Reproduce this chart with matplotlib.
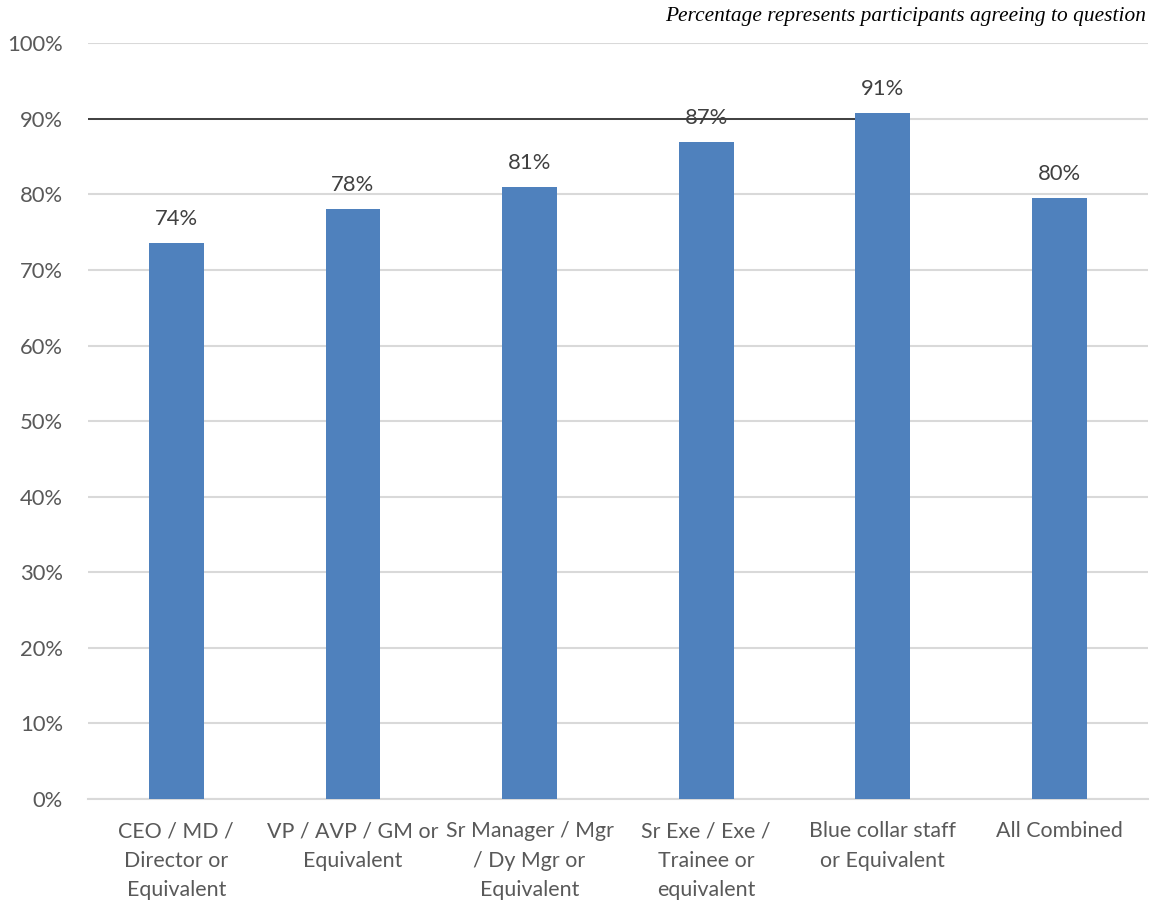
import matplotlib
matplotlib.use("Agg")
import matplotlib.pyplot as plt
import numpy as np

categories = [
    "CEO / MD /\nDirector or\nEquivalent",
    "VP / AVP / GM or\nEquivalent",
    "Sr Manager / Mgr\n/ Dy Mgr or\nEquivalent",
    "Sr Exe / Exe /\nTrainee or\nequivalent",
    "Blue collar staff\nor Equivalent",
    "All Combined",
]
agree_pct = [73.6, 78.1, 81.0, 86.9, 90.8, 79.5]
y_ticks = [0, 10, 20, 30, 40, 50, 60, 70, 80, 90, 100]
reference_level = 90
note = "Percentage represents participants agreeing to question"

plt.rcParams["font.family"] = ["Lato", "DejaVu Sans"]

fig = plt.figure(figsize=(11.5, 9), dpi=100)
ax = fig.add_axes([0.0765, 0.1122, 0.9215, 0.8398])

x = np.arange(len(categories))
bar_w = 0.31
bars = ax.bar(x, agree_pct, width=bar_w, color="#4F81BD", zorder=3)

# reference line at 90% running from the axis to the Blue collar bar
ax.hlines(reference_level, -0.5, 4, colors="#262626", linewidth=1.2, zorder=2)

for xi, v in zip(x, agree_pct):
    ax.annotate(f"{v:.0f}%", (xi, v), xytext=(0, 10), textcoords="offset points",
                ha="center", va="bottom", fontsize=15.8, color="#404040", zorder=4)

ax.set_xlim(-0.5, len(categories) - 0.5)
ax.set_ylim(0, 100)
ax.set_yticks(y_ticks)
ax.set_yticklabels([f"{t}%" for t in y_ticks], fontsize=15.8, color="#595959")
ax.set_xticks(x)
ax.set_xticklabels(categories, fontsize=15.4, color="#595959", linespacing=1.6)
ax.tick_params(axis="both", length=0)
ax.tick_params(axis="y", pad=18)
ax.tick_params(axis="x", pad=16)
for lbl in ax.get_yticklabels():
    lbl.set_horizontalalignment("right")

ax.grid(axis="y", color="#D9D9D9", linewidth=1.5, zorder=0)
ax.set_axisbelow(True)
for s in ["top", "right", "left"]:
    ax.spines[s].set_visible(False)
ax.spines["bottom"].set_color("#D9D9D9")
ax.spines["bottom"].set_linewidth(1.5)

fig.text(0.997, 0.982, note, ha="right", va="center", fontsize=15.4,
         family="Liberation Serif", style="italic", color="#000000")

fig.savefig("out.png", dpi=100, facecolor="white")
